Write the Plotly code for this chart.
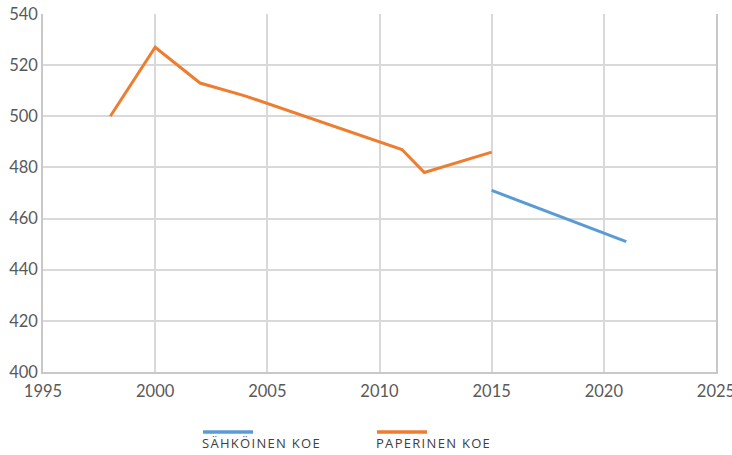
import plotly.graph_objects as go

# Data
paper_years = [1998, 2000, 2002, 2004, 2011, 2012, 2015]
paper_scores = [500, 527, 513, 508, 487, 478, 486]
digital_years = [2015, 2021]
digital_scores = [471, 451]
series_names = ["SÄHKÖINEN KOE", "PAPERINEN KOE"]
x_ticks = [1995, 2000, 2005, 2010, 2015, 2020, 2025]
y_ticks = [400, 420, 440, 460, 480, 500, 520, 540]

BLUE = "#5B9BD5"
ORANGE = "#ED7D31"
GRID = "#D9D9D9"
AXIS = "#C8C8C8"
TXT = "#595959"

fig = go.Figure()
fig.add_trace(go.Scatter(x=digital_years, y=digital_scores, mode="lines",
                         name=series_names[0], line=dict(color=BLUE, width=3)))
fig.add_trace(go.Scatter(x=paper_years, y=paper_scores, mode="lines",
                         name=series_names[1], line=dict(color=ORANGE, width=3)))

W, H = 732, 455
L, R, T, B = 43, 16, 14, 83
pw, ph = W - L - R, H - T - B

def px(xp):
    return (xp - L) / pw

def py(yp):
    return (H - B - yp) / ph

# Custom legend (line above text)
for name, color, x0 in [(series_names[0], BLUE, 203), (series_names[1], ORANGE, 377)]:
    fig.add_shape(type="line", xref="paper", yref="paper",
                  x0=px(x0), x1=px(x0 + 50), y0=py(432), y1=py(432),
                  line=dict(color=color, width=3.5))
    fig.add_annotation(xref="paper", yref="paper", x=px(x0 - 2), y=py(453),
                       xanchor="left", yanchor="bottom", showarrow=False,
                       borderpad=0,
                       text='<span style="letter-spacing:1.3px">' + name + '</span>',
                       font=dict(family="Open Sans", size=13, color="#404040"))

fig.update_layout(
    width=W, height=H,
    margin=dict(l=L, r=R, t=T, b=B, autoexpand=False),
    paper_bgcolor="white", plot_bgcolor="white",
    showlegend=False,
    font=dict(family="Lato", size=16.5, color=TXT),
)
fig.update_xaxes(range=[1995, 2025], tickvals=x_ticks, showgrid=True, gridcolor=GRID,
                 gridwidth=1.5, showline=True, linecolor=AXIS, linewidth=1.5,
                 zeroline=False, ticks="", ticklen=0, automargin=False,
                 ticklabelstandoff=3, ticklabeloverflow="allow",
                 tickfont=dict(family="Lato", size=16.5, color=TXT))
fig.update_yaxes(range=[400, 540], tickvals=y_ticks, showgrid=True, gridcolor=GRID,
                 gridwidth=1.5, showline=True, linecolor=AXIS, linewidth=1.5,
                 mirror=True,
                 zeroline=False, ticks="", ticklen=0, automargin=False,
                 ticklabeloverflow="allow",
                 tickfont=dict(family="Lato", size=16.5, color=TXT))

fig.write_html("out.html", config={"displayModeBar": False},
               post_script="document.body.style.margin='0';document.body.style.overflow='hidden';")
